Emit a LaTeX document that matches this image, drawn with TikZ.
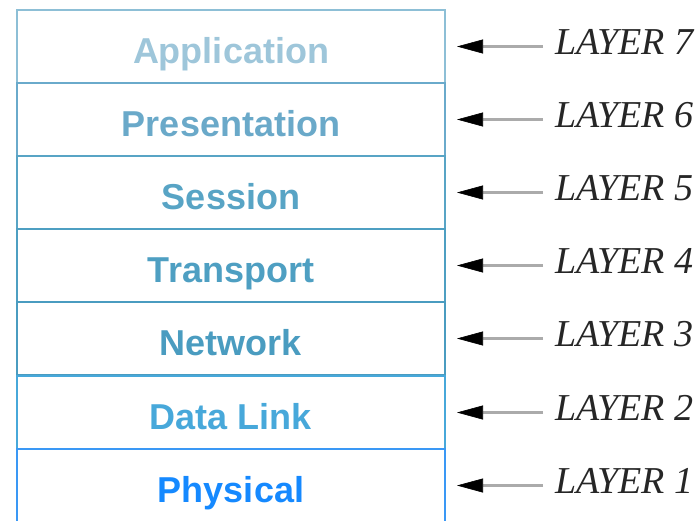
\documentclass[tikz,border=0pt]{standalone}
\usepackage{fontspec}
\setmainfont{Liberation Serif}
\newfontfamily\boxfont{Liberation Sans}
\usetikzlibrary{arrows.meta}
\definecolor{c7}{HTML}{9EC6DA}
\definecolor{c6}{HTML}{6AA9C9}
\definecolor{c5}{HTML}{58A4C5}
\definecolor{c4}{HTML}{4E9FC2}
\definecolor{c3}{HTML}{4A9CC0}
\definecolor{c2}{HTML}{47A8DA}
\definecolor{c1}{HTML}{1589FF}
\definecolor{b7}{HTML}{8DBFD6}
\definecolor{b6}{HTML}{6AAACB}
\definecolor{b1}{HTML}{3A98F5}
\tikzset{
  layerbox/.style={draw, line width=1.8pt, rectangle, minimum width=428pt, minimum height=73pt,
    inner sep=0pt, outer sep=0pt, text height=33pt, text depth=0pt,
    font=\boxfont\bfseries\fontsize{36}{40}\selectfont},
  layerlabel/.style={anchor=base west, inner sep=0pt, font=\itshape\fontsize{38}{42}\selectfont, text=black!85},
  layerarrow/.style={draw=black!33, line width=3.8pt,
    -{Triangle[length=26pt,width=14pt,color=black,fill=black,line width=0.6pt]}}
}
\begin{document}
\begin{tikzpicture}[x=1pt,y=-1pt]
\useasboundingbox (0,0) rectangle (700,520);
\node[layerbox, draw=b7, text=c7] (a7) at (231,46.5) {Application};
\node[layerbox, draw=b6, text=c6] (a6) at (231,119.5) {Presentation};
\node[layerbox, draw=c5, text=c5] (a5) at (231,192.5) {Session};
\node[layerbox, draw=c4, text=c4] (a4) at (231,265.5) {Transport};
\node[layerbox, draw=c3, text=c3] (a3) at (231,338.5) {Network};
\node[layerbox, draw=c2, text=c2] (a2) at (231,412.5) {Data Link};
\node[layerbox, draw=b1, text=c1] (a1) at (231,485.5) {Physical};
\foreach \n/\y in {7/46.5,6/119.5,5/192.5,4/265.5,3/338.5,2/412.5,1/485.5}{
  \node[layerlabel] (l\n) at (555,\y+8) {LAYER \n};
  \coordinate (s\n) at (543,\y);
  \draw[layerarrow] (s\n) -- ([xshift=12pt]a\n.east);
}
\end{tikzpicture}
\end{document}
